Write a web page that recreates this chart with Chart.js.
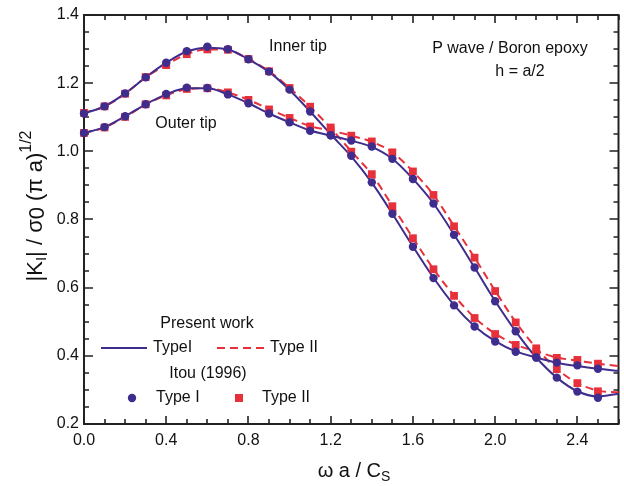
<!DOCTYPE html>
<html>
<head>
<meta charset="utf-8">
<script src="https://cdn.jsdelivr.net/npm/chart.js@4.4.1/dist/chart.umd.min.js"></script>
<style>
html,body{margin:0;padding:0;background:#fff;}
#wrap{width:624px;height:486px;position:relative;}
</style>
</head>
<body>
<div id="wrap"><canvas id="c" width="624" height="486"></canvas></div>
<script>
// ---- data ----
const omegaPts = [0.0,0.1,0.2,0.3,0.4,0.5,0.6,0.7,0.8,0.9,1.0,1.1,1.2,1.3,1.4,1.5,1.6,1.7,1.8,1.9,2.0,2.1,2.2,2.3,2.4,2.5];
const omegaCurve = [0.0,0.1,0.2,0.3,0.4,0.5,0.6,0.7,0.8,0.9,1.0,1.1,1.2,1.3,1.4,1.5,1.6,1.7,1.8,1.9,2.0,2.1,2.2,2.3,2.4,2.5,2.6];

// Itou (1996) points
const itouInnerTypeI  = [1.111,1.132,1.170,1.217,1.260,1.294,1.307,1.300,1.270,1.234,1.181,1.117,1.047,0.987,0.909,0.817,0.720,0.628,0.548,0.486,0.442,0.412,0.395,0.380,0.372,0.362];
const itouInnerTypeII = [1.113,1.132,1.169,1.218,1.253,1.285,1.299,1.298,1.271,1.235,1.186,1.131,1.070,0.999,0.933,0.839,0.745,0.654,0.576,0.511,0.464,0.432,0.413,0.394,0.388,0.377];
const itouOuterTypeI  = [1.054,1.071,1.103,1.138,1.168,1.187,1.186,1.167,1.141,1.111,1.085,1.060,1.047,1.032,1.014,0.978,0.919,0.847,0.755,0.659,0.560,0.472,0.395,0.336,0.295,0.277];
const itouOuterTypeII = [1.054,1.070,1.101,1.138,1.164,1.183,1.185,1.173,1.151,1.123,1.098,1.073,1.062,1.046,1.029,0.997,0.941,0.872,0.780,0.688,0.590,0.498,0.422,0.361,0.320,0.296];

// Present work curves
const presentInnerTypeI  = [1.111,1.132,1.170,1.217,1.260,1.293,1.304,1.299,1.270,1.233,1.180,1.117,1.050,0.985,0.908,0.817,0.721,0.629,0.549,0.487,0.443,0.413,0.395,0.380,0.370,0.362,0.356];
const presentInnerTypeII = [1.113,1.132,1.169,1.217,1.254,1.285,1.299,1.297,1.271,1.235,1.186,1.131,1.068,1.000,0.932,0.840,0.746,0.655,0.577,0.512,0.465,0.433,0.413,0.395,0.386,0.377,0.370];
const presentOuterTypeI  = [1.054,1.071,1.103,1.138,1.167,1.185,1.185,1.167,1.141,1.111,1.085,1.061,1.046,1.031,1.013,0.978,0.919,0.847,0.756,0.659,0.561,0.472,0.395,0.336,0.296,0.281,0.289];
const presentOuterTypeII = [1.054,1.070,1.101,1.137,1.164,1.182,1.185,1.173,1.151,1.124,1.098,1.074,1.061,1.046,1.028,0.997,0.941,0.872,0.781,0.688,0.591,0.499,0.423,0.362,0.320,0.298,0.293];

const xTickLabels = [0.0,0.4,0.8,1.2,1.6,2.0,2.4];
const yTickLabels = [0.2,0.4,0.6,0.8,1.0,1.2,1.4];

// ---- styles ----
const PURPLE = '#3f2d8e';
const RED = '#e8303a';
const FONT = '"Liberation Sans", Arial, Helvetica, sans-serif';

const pts = (xs, ys) => ys.map((v, i) => ({x: xs[i], y: v}));

function curve(label, ys, color, dashed, order) {
  return {
    label, data: pts(omegaCurve, ys), showLine: true,
    borderColor: color, backgroundColor: color, borderWidth: 2,
    borderDash: dashed ? [8, 5] : [], pointRadius: 0, pointHoverRadius: 0,
    cubicInterpolationMode: 'monotone', fill: false, order, clip: false
  };
}
function marks(label, ys, color, style, r, order) {
  return {
    label, data: pts(omegaPts, ys), showLine: false,
    borderColor: color, backgroundColor: color, borderWidth: 0,
    pointStyle: style, pointRadius: r, pointHoverRadius: r, order, clip: false
  };
}

const framePlugin = {
  id: 'frame',
  beforeDatasetsDraw(chart) {
    const {ctx, chartArea: a, scales: {x, y}} = chart;
    ctx.save();
    ctx.strokeStyle = '#222';
    ctx.lineWidth = 2;
    ctx.strokeRect(a.left, a.top, a.right - a.left, a.bottom - a.top);
    ctx.lineWidth = 1.6;
    ctx.beginPath();
    for (let i = 0; i <= 26; i++) {
      const v = i / 10;
      const px = Math.round(x.getPixelForValue(v));
      const L = (i % 4 === 0) ? 8 : 5;
      ctx.moveTo(px, a.bottom); ctx.lineTo(px, a.bottom - L);
      ctx.moveTo(px, a.top); ctx.lineTo(px, a.top + L);
    }
    for (let i = 0; i <= 24; i++) {
      const v = 0.2 + i * 0.05;
      const py = Math.round(y.getPixelForValue(v));
      const L = (i % 4 === 0) ? 9 : 5;
      ctx.moveTo(a.left, py); ctx.lineTo(a.left + L, py);
      ctx.moveTo(a.right, py); ctx.lineTo(a.right - L, py);
    }
    ctx.stroke();
    ctx.restore();
  },
  afterDraw(chart) {
    const {ctx} = chart;
    ctx.save();
    ctx.fillStyle = '#111';
    ctx.textBaseline = 'middle';
    ctx.font = '16px ' + FONT;
    ctx.textAlign = 'center';
    ctx.fillText('Inner tip', 298, 47);
    ctx.fillText('Outer tip', 186, 124);
    ctx.fillText('P wave / Boron epoxy', 510, 49);
    ctx.fillText('h = a/2', 520, 72);

    // legend
    ctx.fillText('Present work', 207, 324);
    ctx.fillText('Itou (1996)', 208, 374);
    ctx.textAlign = 'left';
    ctx.fillText('TypeI', 153, 348);
    ctx.fillText('Type II', 270, 348);
    ctx.fillText('Type I', 156, 398);
    ctx.fillText('Type II', 262, 398);
    ctx.lineWidth = 2;
    ctx.strokeStyle = PURPLE;
    ctx.beginPath(); ctx.moveTo(101, 348); ctx.lineTo(147, 348); ctx.stroke();
    ctx.strokeStyle = RED;
    ctx.setLineDash([8, 5]);
    ctx.beginPath(); ctx.moveTo(217, 348); ctx.lineTo(265, 348); ctx.stroke();
    ctx.setLineDash([]);
    ctx.fillStyle = PURPLE;
    ctx.beginPath(); ctx.arc(132, 398, 4.2, 0, Math.PI * 2); ctx.fill();
    ctx.fillStyle = RED;
    ctx.fillRect(235, 394, 8, 8);

    // axis titles
    ctx.fillStyle = '#111';
    ctx.textAlign = 'left';
    ctx.textBaseline = 'alphabetic';
    ctx.font = '20px ' + FONT;
    const xt = 'ω a / C';
    const wMain = ctx.measureText(xt).width;
    ctx.font = '14px ' + FONT;
    const wSub = ctx.measureText('S').width;
    let x0 = 354 - (wMain + wSub) / 2;
    ctx.font = '20px ' + FONT;
    ctx.fillText(xt, x0, 477);
    ctx.font = '14px ' + FONT;
    ctx.fillText('S', x0 + wMain, 481);

    // y title rotated: |K_I| / σ0 (π a)^1/2
    ctx.translate(42, 206);
    ctx.rotate(-Math.PI / 2);
    const parts = [
      {t: '|K', f: 22, dy: 0},
      {t: 'I', f: 15, dy: 4},
      {t: '| / σ', f: 22, dy: 0},
      {t: '0', f: 22, dy: 2},
      {t: ' (π a)', f: 22, dy: 0},
      {t: '1/2', f: 16, dy: -11}
    ];
    let total = 0;
    parts.forEach(p => { ctx.font = p.f + 'px ' + FONT; p.w = ctx.measureText(p.t).width; total += p.w; });
    let cx = -total / 2;
    parts.forEach(p => { ctx.font = p.f + 'px ' + FONT; ctx.fillText(p.t, cx, p.dy); cx += p.w; });
    ctx.restore();
  }
};

const chart = new Chart(document.getElementById('c'), {
  type: 'scatter',
  data: {
    datasets: [
      marks('Itou Inner Type I', itouInnerTypeI, PURPLE, 'circle', 4.2, 1),
      marks('Itou Outer Type I', itouOuterTypeI, PURPLE, 'circle', 4.2, 2),
      marks('Itou Inner Type II', itouInnerTypeII, RED, 'rect', 5.5, 3),
      marks('Itou Outer Type II', itouOuterTypeII, RED, 'rect', 5.5, 4),
      curve('Present Inner Type I', presentInnerTypeI, PURPLE, false, 5),
      curve('Present Outer Type I', presentOuterTypeI, PURPLE, false, 6),
      curve('Present Inner Type II', presentInnerTypeII, RED, true, 7),
      curve('Present Outer Type II', presentOuterTypeII, RED, true, 8)
    ]
  },
  options: {
    responsive: false,
    animation: false,
    devicePixelRatio: 1,
    layout: {padding: {left: 0, right: 1, top: 15, bottom: 0}},
    plugins: {legend: {display: false}, tooltip: {enabled: false}},
    events: [],
    scales: {
      x: {
        type: 'linear', min: 0, max: 2.6,
        grid: {display: false, drawTicks: false},
        border: {display: false},
        afterBuildTicks: s => { s.ticks = xTickLabels.map(v => ({value: v})); },
        afterFit: s => { s.height = 62; },
        ticks: {
          padding: 7, color: '#111', font: {family: FONT, size: 16},
          maxRotation: 0, autoSkip: false,
          callback: v => Number(v).toFixed(1)
        }
      },
      y: {
        type: 'linear', min: 0.2, max: 1.4,
        grid: {display: false, drawTicks: false},
        border: {display: false},
        afterBuildTicks: s => { s.ticks = yTickLabels.map(v => ({value: v})); },
        afterFit: s => { s.width = 84; },
        ticks: {
          padding: 5, color: '#111', font: {family: FONT, size: 16},
          autoSkip: false,
          callback: v => Number(v).toFixed(1)
        }
      }
    }
  },
  plugins: [framePlugin]
});
</script>
</body>
</html>
